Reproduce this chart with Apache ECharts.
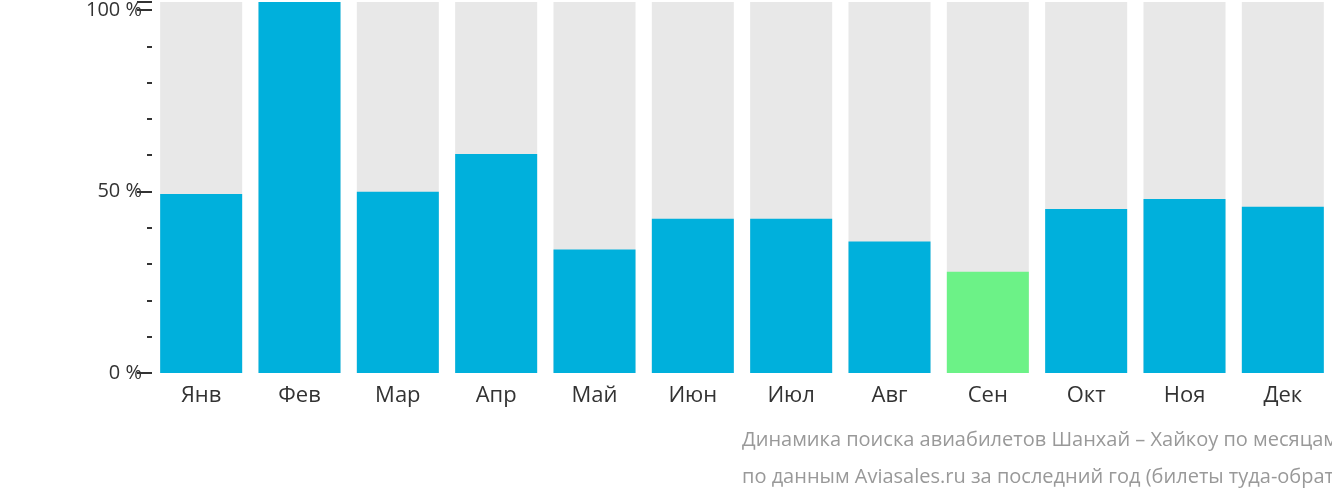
<!DOCTYPE html>
<html><head><meta charset="utf-8">
<script src="https://cdn.jsdelivr.net/npm/echarts@6/dist/echarts.min.js"></script>
<style>html,body{margin:0;padding:0;background:#fff}#c{width:1332px;height:502px}</style>
</head><body><div id="c"></div>
<script>
const categories = ['Янв','Фев','Мар','Апр','Май','Июн','Июл','Авг','Сен','Окт','Ноя','Дек'];
const values = [49.3, 102.2, 49.9, 60.3, 34, 42.5, 42.5, 36.2, 27.9, 45.2, 47.9, 45.8];
const highlightIndex = 8;
const yMax = 102.2;
const titleLines = ['Динамика поиска авиабилетов Шанхай – Хайкоу по месяцам,', 'по данным Aviasales.ru за последний год (билеты туда-обратно)'];
const font = 'Open Sans';
const chart = echarts.init(document.getElementById('c'));
chart.setOption({
  animation: false,
  textStyle: {fontFamily: font},
  grid: {left: 152, right: 0, top: 0, bottom: 129},
  xAxis: {type: 'category', data: categories, axisLine: {show: false}, axisTick: {show: false},
    axisLabel: {fontSize: 22, color: '#333', margin: 12, fontFamily: font}},
  yAxis: [
    {type: 'value', min: 0, max: yMax, interval: 10, position: 'left', splitLine: {show: false},
     axisLine: {show: false}, axisLabel: {show: false},
     axisTick: {show: true, length: 5, lineStyle: {color: '#333', width: 2}}},
    {type: 'value', min: 0, max: yMax, interval: 50, position: 'left', splitLine: {show: false},
     axisLine: {show: false}, axisTick: {show: true, length: 15, lineStyle: {color: '#333', width: 2}},
     axisLabel: {fontSize: 20, color: '#333', margin: 10, fontFamily: font, formatter: v => (v % 50 === 0 ? v + ' %' : '')}}
  ],
  series: [
    {type: 'bar', barWidth: 82, silent: true, data: categories.map(() => yMax), itemStyle: {color: '#e8e8e8'}, z: 1},
    {type: 'bar', barWidth: 82, barGap: '-100%', z: 2,
     data: values.map((v, i) => ({value: v, itemStyle: {color: i === highlightIndex ? '#6cf287' : '#00b0dc'}}))}
  ],
  graphic: titleLines.map((t, i) => ({type: 'text', left: 742 - 0, top: 430 + i * 37,
    style: {text: t, fill: '#999', font: '20px "Open Sans"', textAlign: 'center'}, x: 0}))
});
</script></body></html>
